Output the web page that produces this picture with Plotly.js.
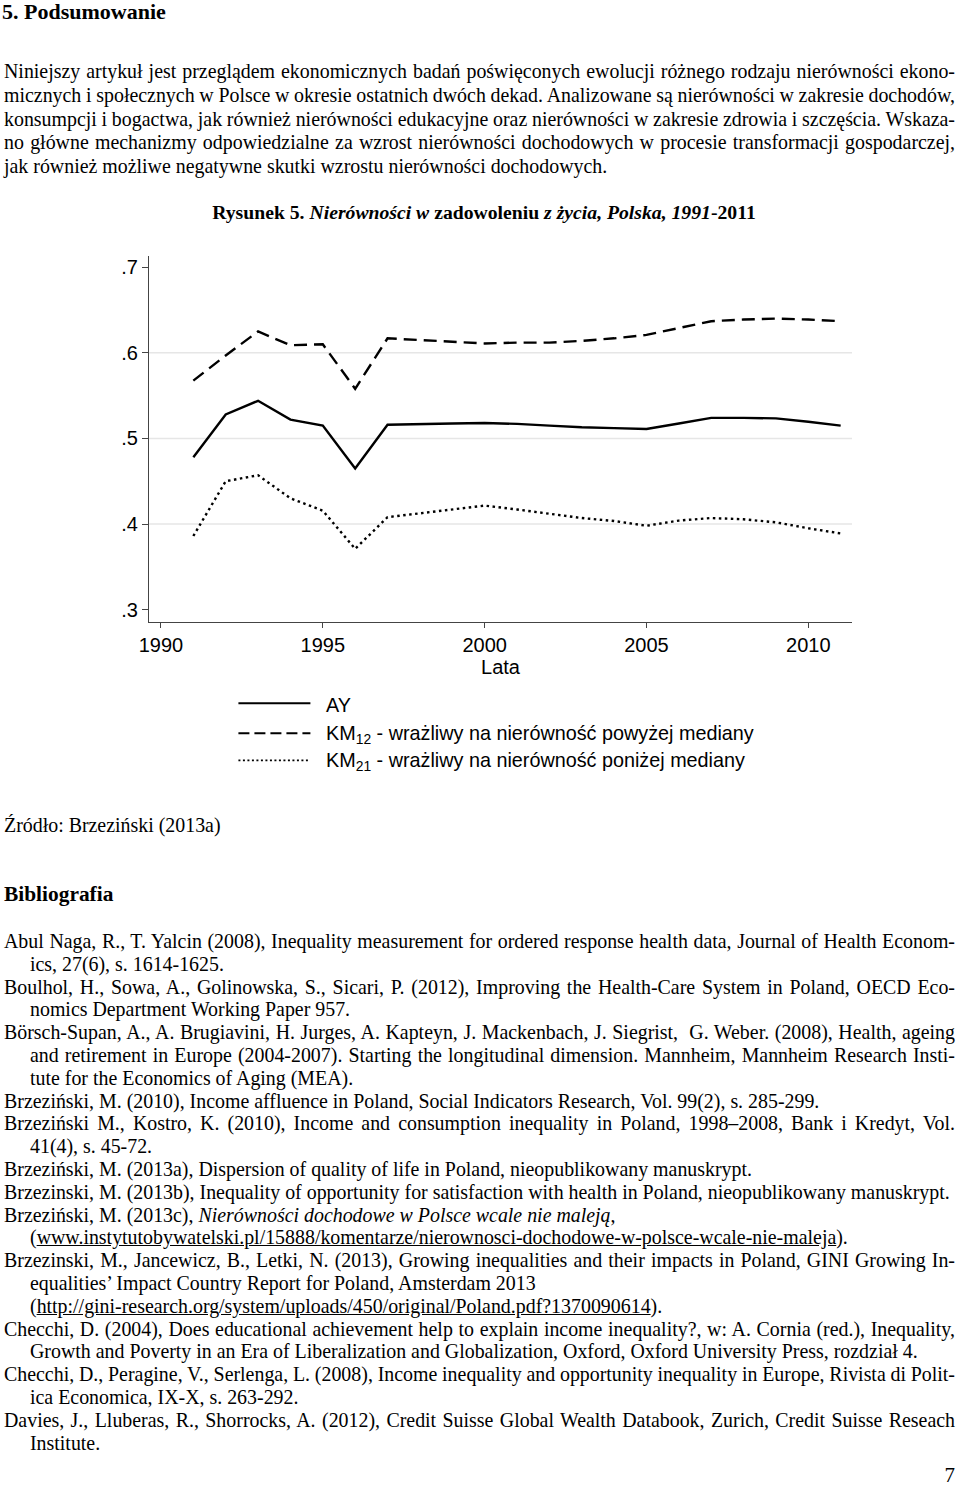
<!DOCTYPE html>
<html lang="pl">
<head>
<meta charset="utf-8">
<script src="https://cdn.plot.ly/plotly-3.0.1.min.js"></script>
<style>
  html, body { margin: 0; padding: 0; background: #fff; }
  #page { position: relative; width: 960px; height: 1486px; overflow: hidden; background: #fff;
          font-family: "Liberation Serif", "Times New Roman", serif; color: #000; }
  .ln { position: absolute; left: 4px; width: 951px; font-size: 19.9px; line-height: 23px; height: 23px; }
  .in { left: 30px; width: 925px; }
  .j { text-align: justify; text-align-last: justify; }
  .nw { white-space: nowrap; }
  .b { font-weight: bold; }
  #chart { position: absolute; left: 0; top: 240px; width: 960px; height: 560px; }
</style>
</head>
<body>
<div id="page">
  <div class="ln b nw" style="top:0px; font-size:22px; left:2px;">5. Podsumowanie</div>

  <div class="ln j" style="top:60px;">Niniejszy artykuł jest przeglądem ekonomicznych badań poświęconych ewolucji różnego rodzaju nierówności ekono-</div>
  <div class="ln j" style="top:84px;">micznych i społecznych w Polsce w okresie ostatnich dwóch dekad. Analizowane są nierówności w zakresie dochodów,</div>
  <div class="ln j" style="top:108px;">konsumpcji i bogactwa, jak również nierówności edukacyjne oraz nierówności w zakresie zdrowia i szczęścia. Wskaza-</div>
  <div class="ln j" style="top:131px;">no główne mechanizmy odpowiedzialne za wzrost nierówności dochodowych w procesie transformacji gospodarczej,</div>
  <div class="ln nw" style="top:155px;">jak również możliwe negatywne skutki wzrostu nierówności dochodowych.</div>

  <div class="ln b nw" style="top:201px; left:0; width:960px; text-align:center; padding-left:4px; font-size:19.7px;">Rysunek 5. <i>Nierówności w</i> zadowoleniu <i>z życia, Polska, 1991</i>-2011</div>

  <div id="chart"></div>

  <div class="ln nw" style="top:814px;">Źródło: Brzeziński (2013a)</div>
  <div class="ln b nw" style="top:883px; font-size:21.4px;">Bibliografia</div>

  <div class="ln j" style="top:930px;">Abul Naga, R., T. Yalcin (2008), Inequality measurement for ordered response health data, Journal of Health Econom-</div>
  <div class="ln in nw" style="top:952.8px;">ics, 27(6), s. 1614-1625.</div>
  <div class="ln j" style="top:975.6px;">Boulhol, H., Sowa, A., Golinowska, S., Sicari, P. (2012), Improving the Health-Care System in Poland, OECD Eco-</div>
  <div class="ln in nw" style="top:998.4px;">nomics Department Working Paper 957.</div>
  <div class="ln j" style="top:1021.2px;">Börsch-Supan, A., A. Brugiavini, H. Jurges, A. Kapteyn, J. Mackenbach, J. Siegrist,&nbsp; G. Weber. (2008), Health, ageing</div>
  <div class="ln in j" style="top:1044px;">and retirement in Europe (2004-2007). Starting the longitudinal dimension. Mannheim, Mannheim Research Insti-</div>
  <div class="ln in nw" style="top:1066.8px;">tute for the Economics of Aging (MEA).</div>
  <div class="ln nw" style="top:1089.6px;">Brzeziński, M. (2010), Income affluence in Poland, Social Indicators Research, Vol. 99(2), s. 285-299.</div>
  <div class="ln j" style="top:1112.4px;">Brzeziński M., Kostro, K. (2010), Income and consumption inequality in Poland, 1998–2008, Bank i Kredyt, Vol.</div>
  <div class="ln in nw" style="top:1135.2px;">41(4), s. 45-72.</div>
  <div class="ln nw" style="top:1158px;">Brzeziński, M. (2013a), Dispersion of quality of life in Poland, nieopublikowany manuskrypt.</div>
  <div class="ln nw fit" style="top:1180.8px;">Brzezinski, M. (2013b), Inequality of opportunity for satisfaction with health in Poland, nieopublikowany manuskrypt.</div>
  <div class="ln nw" style="top:1203.6px;">Brzeziński, M. (2013c), <i>Nierówności dochodowe w Polsce wcale nie maleją</i>,</div>
  <div class="ln in nw" style="top:1226.4px;">(<u>www.instytutobywatelski.pl/15888/komentarze/nierownosci-dochodowe-w-polsce-wcale-nie-maleja</u>).</div>
  <div class="ln j" style="top:1249.2px;">Brzezinski, M., Jancewicz, B., Letki, N. (2013), Growing inequalities and their impacts in Poland, GINI Growing In-</div>
  <div class="ln in nw" style="top:1272px;">equalities’ Impact Country Report for Poland, Amsterdam 2013</div>
  <div class="ln in nw" style="top:1294.8px;">(<u>http://gini-research.org/system/uploads/450/original/Poland.pdf?1370090614</u>).</div>
  <div class="ln j" style="top:1317.6px;">Checchi, D. (2004), Does educational achievement help to explain income inequality?, w: A. Cornia (red.), Inequality,</div>
  <div class="ln in nw fit" style="top:1340.4px;">Growth and Poverty in an Era of Liberalization and Globalization, Oxford, Oxford University Press, rozdział 4.</div>
  <div class="ln j" style="top:1363.2px;">Checchi, D., Peragine, V., Serlenga, L. (2008), Income inequality and opportunity inequality in Europe, Rivista di Polit-</div>
  <div class="ln in nw" style="top:1386px;">ica Economica, IX-X, s. 263-292.</div>
  <div class="ln j" style="top:1408.8px;">Davies, J., Lluberas, R., Shorrocks, A. (2012), Credit Suisse Global Wealth Databook, Zurich, Credit Suisse Reseach</div>
  <div class="ln in nw" style="top:1431.6px;">Institute.</div>

  <div class="ln nw" style="top:1464px; text-align:right; font-size:21px;">7</div>
</div>

<script>
// Keep every manually broken line on one line: shrink word spacing if needed
function fitLines() {
  document.querySelectorAll('.ln.j, .ln.fit').forEach(el => {
    el.style.wordSpacing = '';
    const avail = el.clientWidth;
    const span = document.createElement('span');
    span.style.whiteSpace = 'nowrap';
    while (el.firstChild) span.appendChild(el.firstChild);
    el.appendChild(span);
    const w = span.getBoundingClientRect().width;
    while (span.firstChild) el.appendChild(span.firstChild);
    el.removeChild(span);
    if (w > avail - 1) {
      const n = (el.textContent.match(/ /g) || []).length || 1;
      el.style.wordSpacing = ((avail - 1 - w) / n).toFixed(2) + 'px';
    }
  });
}
fitLines();
if (document.fonts && document.fonts.ready) { document.fonts.ready.then(fitLines); }

// ---- data ----
const years = [1991,1992,1993,1994,1995,1996,1997,1998,1999,2000,2001,2002,2003,2004,2005,2006,2007,2008,2009,2010,2011];
const AY   = [0.478,0.528,0.544,0.522,0.515,0.465,0.516,0.517,0.5175,0.518,0.517,0.515,0.513,0.512,0.511,0.5175,0.524,0.524,0.5235,0.5195,0.515];
const KM12 = [0.5676,0.597,0.625,0.609,0.610,0.558,0.617,0.615,0.613,0.611,0.612,0.612,0.614,0.617,0.621,0.629,0.637,0.639,0.640,0.639,0.637];
const KM21 = [0.386,0.450,0.457,0.430,0.4156,0.371,0.408,0.4125,0.417,0.4215,0.417,0.412,0.407,0.4035,0.398,0.404,0.407,0.4055,0.402,0.395,0.389];

const xTickVals = [1990,1995,2000,2005,2010];
const xTickText = ['1990','1995','2000','2005','2010'];
const yTickVals = [0.3,0.4,0.5,0.6,0.7];
const yTickText = ['.3','.4','.5','.6','.7'];
const gridVals  = [0.4,0.5,0.6];

const seriesNames = ['AY',
  'KM<sub>12</sub> - wrażliwy na nierówność powyżej mediany',
  'KM<sub>21</sub> - wrażliwy na nierówność poniżej mediany'];

const font = 'Liberation Sans, Arial, sans-serif';
const dashes = ['solid', '13px,7px', '2.5px,3.5px'];

const traces = [AY, KM12, KM21].map((vals, i) => ({
  type: 'scatter', mode: 'lines', x: years, y: vals, name: seriesNames[i],
  line: { color: '#000', width: 2.4, dash: dashes[i] }, showlegend: false, hoverinfo: 'x+y'
}));

const shapes = gridVals.map(v => ({
  type: 'line', xref: 'paper', x0: 0, x1: 1, yref: 'y', y0: v, y1: v,
  line: { color: '#e6e6e6', width: 1.5 }, layer: 'below'
}));

// custom legend (Stata style): long sample lines + labels
const legY = [-0.222, -0.304, -0.378];
const legDash = ['solid', '11px,5px', '2px,2.5px'];
const legW = [2, 2, 1.8];
legY.forEach((yy, i) => {
  shapes.push({ type: 'line', xref: 'paper', yref: 'paper', x0: 0.1272, x1: 0.2296, y0: yy, y1: yy,
    line: { color: '#000', width: legW[i], dash: legDash[i] } });
});
const annotations = legY.map((yy, i) => ({
  xref: 'paper', yref: 'paper', x: 0.2495, y: yy - 0.004, xanchor: 'left', yanchor: 'middle',
  text: seriesNames[i], showarrow: false, font: { family: font, size: 19.8, color: '#000' }
}));

const layout = {
  width: 960, height: 560,
  margin: { l: 148.5, r: 108, t: 16, b: 178 },
  paper_bgcolor: '#fff', plot_bgcolor: '#fff',
  showlegend: false,
  xaxis: {
    range: [1989.63, 2011.35], tickvals: xTickVals, ticktext: xTickText,
    ticks: 'outside', ticklen: 5, tickwidth: 1, tickcolor: '#444',
    showline: true, linecolor: '#444', linewidth: 1, showgrid: false, zeroline: false,
    tickfont: { family: font, size: 20, color: '#000' },
    title: { text: 'Lata', font: { family: font, size: 20, color: '#000' }, standoff: 1 }
  },
  yaxis: {
    range: [0.2855, 0.7132], tickvals: yTickVals, ticktext: yTickText,
    ticks: 'outside', ticklen: 6, tickwidth: 1, tickcolor: '#444',
    showline: true, linecolor: '#444', linewidth: 1, showgrid: false, zeroline: false,
    tickfont: { family: font, size: 20, color: '#000' }
  },
  shapes: shapes,
  annotations: annotations
};

Plotly.newPlot('chart', traces, layout, { displayModeBar: false, staticPlot: true });
</script>
</body>
</html>
